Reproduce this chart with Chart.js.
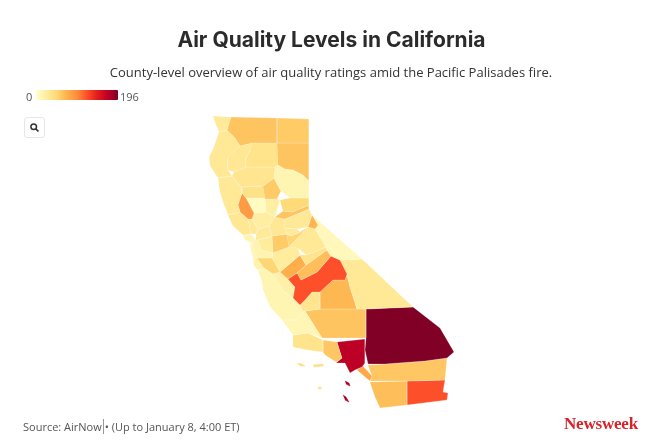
<!DOCTYPE html>
<html>
<head>
<meta charset="utf-8">
<script src="https://cdn.jsdelivr.net/npm/chart.js@4"></script>
<style>
  html, body { margin: 0; background: #fff; }
  #page { position: relative; width: 660px; height: 448px; overflow: hidden; }
  #page canvas { position: absolute; left: 0; top: 0; }
  .txt { position: absolute; white-space: nowrap; color: #333; }
  #title { left: 0; width: 663px; top: 27px; text-align: center; font: 700 21px Inter, sans-serif; color: #2b2b2b; }
  #sub { left: 0; width: 662px; top: 63px; text-align: center; font: 13px "Open Sans", sans-serif; }
  .leg { top: 89px; font: 11px "Open Sans", sans-serif; color: #555; }
  #bar { position: absolute; left: 36px; top: 90px; width: 82px; height: 10px; border-radius: 1px; }
  #zoomBtn { position: absolute; left: 24px; top: 117px; width: 19px; height: 19px; border: 1px solid #e6e6e6; border-radius: 3px; background: #fff; }
  #source { left: 23px; top: 419px; font: 11px "Open Sans", sans-serif; color: #555; }
  #source span { border-left: 1px solid #999; margin-left: 1px; padding-left: 1px; }
  #brand { left: 564px; top: 414px; font: 700 17px "Liberation Serif", serif; color: #d8232a; letter-spacing: -0.2px; }
</style>
</head>
<body>
<div id="page">
  <canvas id="map" width="660" height="448"></canvas>
  <div class="txt" id="title">Air Quality Levels in California</div>
  <div class="txt" id="sub">County-level overview of air quality ratings amid the Pacific Palisades fire.</div>
  <div class="txt leg" style="left:26px">0</div>
  <div id="bar"></div>
  <div class="txt leg" style="left:120px">196</div>
  <div id="zoomBtn">
    <svg width="19" height="19" viewBox="0 0 19 19"><circle cx="8.7" cy="8.7" r="2.8" fill="none" stroke="#333" stroke-width="1.5"/><path d="M10.8 10.8 L13.5 13.5" stroke="#333" stroke-width="1.7"/></svg>
  </div>
  <div class="txt" id="source">Source: AirNow<span></span>• (Up to January 8, 4:00 ET)</div>
  <div class="txt" id="brand">Newsweek</div>
</div>
<script>
const colorStops = ["#ffffcc", "#ffeda0", "#fed976", "#feb24c", "#fd8d3c", "#fc4e2a", "#e31a1c", "#bd0026", "#800026"];
const maxValue = 196;

const countyNames = [
  "Del Norte", "Siskiyou", "Modoc", "Lassen", "Shasta", "Trinity", "Humboldt", "Tehama",
  "Mendocino", "Plumas", "Butte", "Glenn", "Lake", "Colusa", "Sutter", "Yolo",
  "Nevada", "Placer", "El Dorado", "Alpine", "Sonoma", "Napa", "Marin", "Solano",
  "Sacramento", "San Joaquin", "Amador", "Calaveras", "Stanislaus", "Tuolumne", "Mono", "Alameda",
  "San Mateo", "Santa Clara", "Santa Cruz", "Merced North", "Mariposa", "Merced", "Madera", "Fresno",
  "Inyo", "San Benito", "Monterey", "San Luis Obispo", "Kings", "Tulare", "Kern", "San Bernardino",
  "Santa Barbara", "Ventura", "Los Angeles", "Orange", "Riverside", "San Diego", "Imperial",
  "Santa Rosa Island", "Santa Cruz Island", "San Nicolas Island", "Catalina Island", "San Clemente Island"
];

const countyValues = [
  28, 62, 58, 62, 36, 32, 30, 34,
  30, 14, 58, 38, 88, 6, 22, 24,
  48, 62, 30, 72, 32, 30, 14, 28,
  32, 26, 28, 50, 58, 30, 10, 16,
  12, 50, 18, 26, 36, 76, 66, 122,
  30, 20, 14, 12, 34, 70, 62, 196,
  36, 60, 172, 80, 60, 66, 122,
  42, 42, 36, 176, 176
];

const countyOutlines = [
  [[213,116],[231,117],[227,130],[219,132],[216,125]],
  [[231,117],[277,118],[277,143],[252,143],[240,146],[235,138],[227,130]],
  [[277,118],[309,119],[309,143],[277,143]],
  [[277,143],[309,143],[309,181],[303,175],[293,170],[285,169],[278,165]],
  [[252,143],[277,143],[278,165],[275,167],[246,167],[246,158],[250,150]],
  [[240,146],[252,143],[250,150],[246,158],[246,167],[234,172],[228,170],[228,157]],
  [[219,132],[227,130],[235,138],[240,146],[228,157],[228,170],[232,176],[218,178],[210,166],[209,157],[214,147]],
  [[234,172],[246,167],[275,167],[274,178],[263,186],[241,187],[232,176]],
  [[218,178],[232,176],[241,187],[242,193],[238,205],[240,212],[228,215],[224,205],[220,192]],
  [[278,165],[285,169],[293,170],[303,175],[309,181],[309,198],[290,198],[281,191],[274,178],[275,167]],
  [[263,186],[274,178],[281,191],[277,199],[265,199]],
  [[241,187],[263,186],[265,198],[246,198],[242,193]],
  [[242,193],[246,198],[254,213],[252,219],[248,219],[240,212],[238,205]],
  [[246,198],[265,198],[266,212],[254,213]],
  [[265,199],[277,199],[280,200],[275,217],[266,212]],
  [[254,213],[266,212],[275,217],[269,226],[258,229],[252,219]],
  [[280,200],[290,198],[309,198],[309,205],[292,212],[283,211]],
  [[275,217],[283,211],[292,212],[309,205],[309,209],[285,219]],
  [[285,219],[309,209],[312,215],[308,227],[297,229],[285,228]],
  [[312,215],[318,225],[315,229],[308,227]],
  [[228,215],[240,212],[248,219],[251,234],[243,235],[233,226]],
  [[248,219],[252,219],[258,229],[256,234],[251,234]],
  [[243,235],[251,234],[256,240],[252,243],[245,240]],
  [[256,234],[258,229],[269,226],[272,236],[258,240],[256,240]],
  [[275,217],[285,219],[285,228],[287,234],[272,236],[269,226]],
  [[258,240],[272,236],[273,253],[262,250]],
  [[285,228],[297,229],[300,232],[291,236],[287,234]],
  [[287,234],[291,236],[300,232],[308,227],[289,247]],
  [[272,236],[287,234],[289,247],[273,253]],
  [[289,247],[308,227],[315,229],[326,247],[306,255],[298,248]],
  [[312,215],[320,222],[362,259],[340,260],[331,256],[327,250],[326,247],[315,229],[318,225]],
  [[252,243],[256,240],[258,240],[262,250],[273,253],[272,258],[257,258]],
  [[250,245],[252,243],[257,258],[253,258]],
  [[257,258],[272,258],[280,272],[273,274],[264,268]],
  [[253,258],[257,258],[264,268],[258,270],[254,266]],
  [[273,253],[289,247],[298,248],[300,255],[280,272],[272,258]],
  [[306,255],[326,247],[327,250],[306,265],[300,255]],
  [[280,272],[300,255],[306,265],[297,273],[288,279]],
  [[297,273],[306,265],[327,250],[331,256],[317,272],[301,280]],
  [[288,279],[297,273],[301,280],[317,272],[331,256],[340,260],[347,274],[345,280],[333,280],[320,292],[312,292],[305,300],[300,305],[293,298],[295,287]],
  [[340,260],[362,259],[413,307],[366,309],[357,309],[350,287],[347,274]],
  [[273,274],[280,272],[288,279],[295,287],[293,298],[283,291]],
  [[258,270],[264,268],[273,274],[283,291],[293,298],[300,305],[303,312],[295,320],[282,320],[270,307],[263,290],[262,282]],
  [[282,320],[295,320],[303,312],[305,311],[322,338],[308,333],[293,335]],
  [[300,305],[305,300],[312,292],[320,292],[320,309],[305,311],[303,312]],
  [[320,292],[333,280],[345,280],[347,274],[350,287],[357,309],[320,309]],
  [[305,311],[320,309],[357,309],[366,309],[366,338],[322,338]],
  [[366,309],[413,307],[440,328],[454,352],[447,358],[425,361],[385,364],[368,364],[365,350],[366,338]],
  [[293,335],[308,333],[323,340],[323,352],[307,350],[293,347]],
  [[323,340],[337,342],[342,358],[336,362],[325,355],[323,352]],
  [[337,342],[365,339],[365,363],[362,367],[355,370],[350,373],[345,363],[336,363],[342,358]],
  [[357,370],[363,366],[372,376],[370,381]],
  [[368,365],[385,364],[425,361],[447,358],[445,380],[407,381],[370,381],[372,376]],
  [[370,382],[407,381],[407,405],[380,408],[375,397]],
  [[407,381],[445,380],[443,392],[448,393],[447,400],[407,405]],
  [[297,363],[302,364],[305,366],[300,366]],
  [[313,365],[323,364],[323,366],[314,367]],
  [[318,387],[321,387],[321,389],[318,389]],
  [[345,381],[349,383],[350,386],[346,384]],
  [[343,395],[346,397],[349,402],[345,400]]
];

function ratingColor(value) {
  const pos = (value / maxValue) * (colorStops.length - 1);
  const i = Math.min(Math.floor(pos), colorStops.length - 2);
  const t = pos - i;
  const hex = (c, k) => parseInt(c.substr(1 + k * 2, 2), 16);
  const rgb = [0, 1, 2].map((k) => Math.round(hex(colorStops[i], k) * (1 - t) + hex(colorStops[i + 1], k) * t));
  return "rgb(" + rgb.join(",") + ")";
}

document.getElementById("bar").style.background = "linear-gradient(to right," + colorStops.join(",") + ")";

new Chart(document.getElementById("map"), {
  type: "scatter",
  data: {
    datasets: countyNames.map((name, i) => ({
      label: name,
      data: countyOutlines[i].map((p) => ({ x: p[0], y: p[1] })),
      showLine: true,
      fill: "shape",
      tension: 0,
      pointRadius: 0,
      backgroundColor: ratingColor(countyValues[i]),
      borderColor: i >= 55 ? ratingColor(countyValues[i]) : "rgba(255,255,255,0.45)",
      borderWidth: 0.5,
    })),
  },
  options: {
    responsive: false,
    animation: false,
    layout: { padding: 0 },
    plugins: { legend: { display: false }, title: { display: false }, tooltip: { enabled: false } },
    scales: {
      x: { type: "linear", display: false, min: 0, max: 660 },
      y: { type: "linear", display: false, min: 0, max: 448, reverse: true },
    },
  },
});
</script>
</body>
</html>
